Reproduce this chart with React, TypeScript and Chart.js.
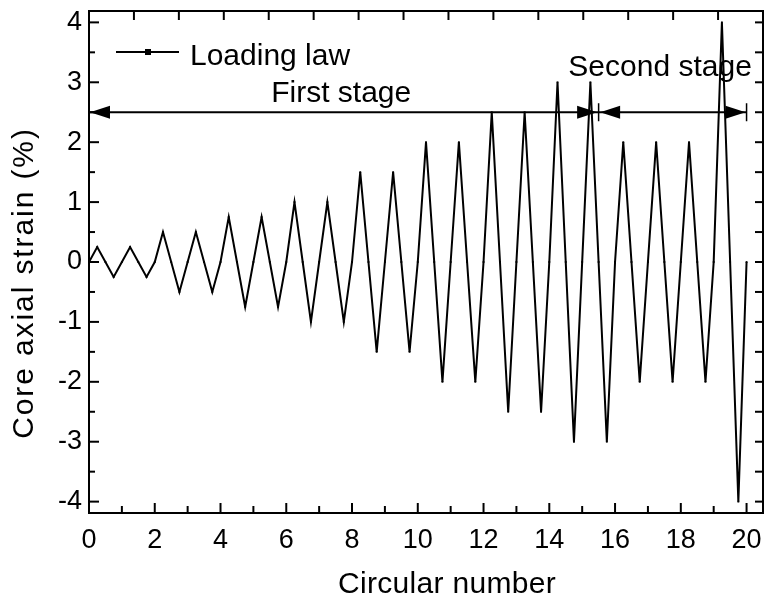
import React, { useEffect, useRef } from "react";
import { Chart, registerables } from "chart.js";

Chart.register(...registerables);

// ---- data ----
const cycleX = [
  0, 0.25, 0.5, 0.75, 1, 1.25, 1.5, 1.75, 2, 2.25, 2.5, 2.75, 3, 3.25, 3.5, 3.75,
  4, 4.25, 4.5, 4.75, 5, 5.25, 5.5, 5.75, 6, 6.25, 6.5, 6.75, 7, 7.25, 7.5, 7.75,
  8, 8.25, 8.5, 8.75, 9, 9.25, 9.5, 9.75, 10, 10.25, 10.5, 10.75, 11, 11.25, 11.5, 11.75,
  12, 12.25, 12.5, 12.75, 13, 13.25, 13.5, 13.75, 14, 14.25, 14.5, 14.75, 15, 15.25, 15.5, 15.75,
  16, 16.25, 16.5, 16.75, 17, 17.25, 17.5, 17.75, 18, 18.25, 18.5, 18.75, 19, 19.25, 19.5, 19.75,
  20,
];
const strainPct = [
  0, 0.25, 0, -0.25, 0, 0.25, 0, -0.25,
  0, 0.5, 0, -0.5, 0, 0.5, 0, -0.5,
  0, 0.75, 0, -0.75, 0, 0.75, 0, -0.75,
  0, 1, 0, -1, 0, 1, 0, -1,
  0, 1.5, 0, -1.5, 0, 1.5, 0, -1.5,
  0, 2, 0, -2, 0, 2, 0, -2,
  0, 2.5, 0, -2.5, 0, 2.5, 0, -2.5,
  0, 3, 0, -3, 0, 3, 0, -3,
  0, 2, 0, -2, 0, 2, 0, -2, 0, 2, 0, -2,
  0, 4, 0, -4,
  0,
];
const seriesLabel = "Loading law";
const xTitle = "Circular number";
const yTitle = "Core axial strain (%)";

const xMajorTicks = [0, 2, 4, 6, 8, 10, 12, 14, 16, 18, 20];
const xMinorTicks = [1, 3, 5, 7, 9, 11, 13, 15, 17, 19];
const yMajorTicks = [-4, -3, -2, -1, 0, 1, 2, 3, 4];
const yMinorTicks = [-3.5, -2.5, -1.5, -0.5, 0.5, 1.5, 2.5, 3.5];
const topTicks = [1, 2, 3, 4, 5, 6, 7, 8, 9, 10, 11, 12, 13, 14];

// stage annotation
const stageLevel = 2.5;
const stageBounds = [0, 15.5, 20];
const stageLabels = ["First stage", "Second stage"];
const stageLabelX = [7.67, 17.37];
const stageLabelY = [2.677, 3.105];

const FONT = "'Liberation Sans', Arial, Helvetica, sans-serif";

const decorPlugin = {
  id: "decor",
  afterDraw(chart: any) {
    const { ctx, chartArea: ca, scales } = chart;
    const xs = scales.x;
    const ys = scales.y;
    const xt = scales.x2;
    ctx.save();
    ctx.strokeStyle = "#000";
    ctx.fillStyle = "#000";
    ctx.lineWidth = 2;
    ctx.lineCap = "butt";

    // frame
    ctx.strokeRect(ca.left, ca.top, ca.right - ca.left, ca.bottom - ca.top);

    const seg = (x1: number, y1: number, x2: number, y2: number) => {
      ctx.beginPath();
      ctx.moveTo(x1, y1);
      ctx.lineTo(x2, y2);
      ctx.stroke();
    };

    // bottom ticks (inward)
    xMajorTicks.forEach((v) => {
      const p = xs.getPixelForValue(v);
      seg(p, ca.bottom, p, ca.bottom - 10);
    });
    xMinorTicks.forEach((v) => {
      const p = xs.getPixelForValue(v);
      seg(p, ca.bottom, p, ca.bottom - 7);
    });
    // left ticks
    yMajorTicks.forEach((v) => {
      const p = ys.getPixelForValue(v);
      seg(ca.left, p, ca.left + 10, p);
    });
    yMinorTicks.forEach((v) => {
      const p = ys.getPixelForValue(v);
      seg(ca.left, p, ca.left + 6, p);
    });
    // right ticks
    [...yMajorTicks, ...yMinorTicks].forEach((v) => {
      const p = ys.getPixelForValue(v);
      seg(ca.right, p, ca.right - 8, p);
    });
    // top ticks
    topTicks.forEach((v) => {
      const p = xt.getPixelForValue(v);
      seg(p, ca.top, p, ca.top + 9);
    });

    // stage arrows
    const py = ys.getPixelForValue(stageLevel);
    const bx = stageBounds.map((v) => xs.getPixelForValue(v));
    seg(bx[0], py, bx[2], py);
    const head = (tip: number, dir: number) => {
      ctx.beginPath();
      ctx.moveTo(tip, py);
      ctx.lineTo(tip - dir * 20, py - 6.5);
      ctx.lineTo(tip - dir * 20, py + 6.5);
      ctx.closePath();
      ctx.fill();
    };
    head(bx[0] + 1, -1);
    head(bx[1] - 1.5, 1);
    head(bx[1] + 1.5, -1);
    head(bx[2] - 1, 1);
    ctx.lineWidth = 1.5;
    seg(bx[1], py - 9, bx[1], py + 9);
    seg(bx[2], py - 9, bx[2], py + 9);

    // stage labels
    ctx.font = `30px ${FONT}`;
    ctx.textAlign = "center";
    ctx.textBaseline = "alphabetic";
    stageLabels.forEach((t, i) => {
      ctx.fillText(t, xs.getPixelForValue(stageLabelX[i]), ys.getPixelForValue(stageLabelY[i]));
    });

    // legend
    const ly = ca.top + 41;
    ctx.lineWidth = 2;
    seg(ca.left + 27, ly, ca.left + 90, ly);
    ctx.fillRect(ca.left + 56, ly - 3, 6, 6);
    ctx.textAlign = "left";
    ctx.fillText(seriesLabel, ca.left + 101, ca.top + 54);

    // axis titles
    ctx.textAlign = "center";
    (ctx as any).letterSpacing = "0.3px";
    ctx.fillText(xTitle, 447, 593);
    ctx.save();
    ctx.translate(33, 283);
    ctx.rotate(-Math.PI / 2);
    (ctx as any).letterSpacing = "1.9px";
    ctx.fillText(yTitle, 0, 0);
    ctx.restore();

    ctx.restore();
  },
};

export default function App() {
  const ref = useRef<HTMLCanvasElement>(null);

  useEffect(() => {
    if (!ref.current) return;
    const chart = new Chart(ref.current, {
      type: "scatter",
      data: {
        datasets: [
          {
            label: seriesLabel,
            data: cycleX.map((x, i) => ({ x, y: strainPct[i] })),
            showLine: true,
            borderColor: "#000",
            borderWidth: 2,
            backgroundColor: "#000",
            pointStyle: "rect",
            pointRadius: 1.3,
            pointBorderWidth: 0,
            pointBackgroundColor: "#000",
            tension: 0,
          },
        ],
      },
      options: {
        responsive: false,
        animation: false,
        devicePixelRatio: 1,
        layout: { padding: { top: 11, right: 8, left: 0, bottom: 0 } },
        plugins: { legend: { display: false }, tooltip: { enabled: false } },
        scales: {
          x: {
            type: "linear",
            position: "bottom",
            min: 0,
            max: 20.5,
            afterBuildTicks: (s: any) => {
              s.ticks = xMajorTicks.map((v) => ({ value: v }));
            },
            afterFit: (s: any) => {
              s.height = 83;
              s.paddingLeft = 0;
              s.paddingRight = 0;
            },
            grid: { display: false, drawTicks: false },
            border: { display: true, color: "#000", width: 2 },
            ticks: {
              color: "#000",
              font: { family: FONT, size: 27 },
              padding: 11,
              maxRotation: 0,
              autoSkip: false,
            },
            title: { display: false },
          },
          x2: {
            type: "linear",
            position: "top",
            min: 0,
            max: 15,
            display: false,
          },
          y: {
            type: "linear",
            position: "left",
            min: -4.19,
            max: 4.19,
            afterBuildTicks: (s: any) => {
              s.ticks = yMajorTicks.map((v) => ({ value: v }));
            },
            afterFit: (s: any) => {
              s.width = 89;
              s.paddingTop = 0;
              s.paddingBottom = 0;
            },
            grid: { display: false, drawTicks: false },
            border: { display: true, color: "#000", width: 2 },
            ticks: {
              color: "#000",
              font: { family: FONT, size: 27 },
              padding: 7,
              autoSkip: false,
            },
            title: { display: false },
          },
        },
      },
      plugins: [decorPlugin],
    } as any);
    return () => chart.destroy();
  }, []);

  return (
    <div style={{ position: "fixed", left: 0, top: 0, width: 771, height: 596, background: "#fff" }}>
      <canvas ref={ref} width={771} height={596} style={{ display: "block", width: 771, height: 596 }} />
    </div>
  );
}
